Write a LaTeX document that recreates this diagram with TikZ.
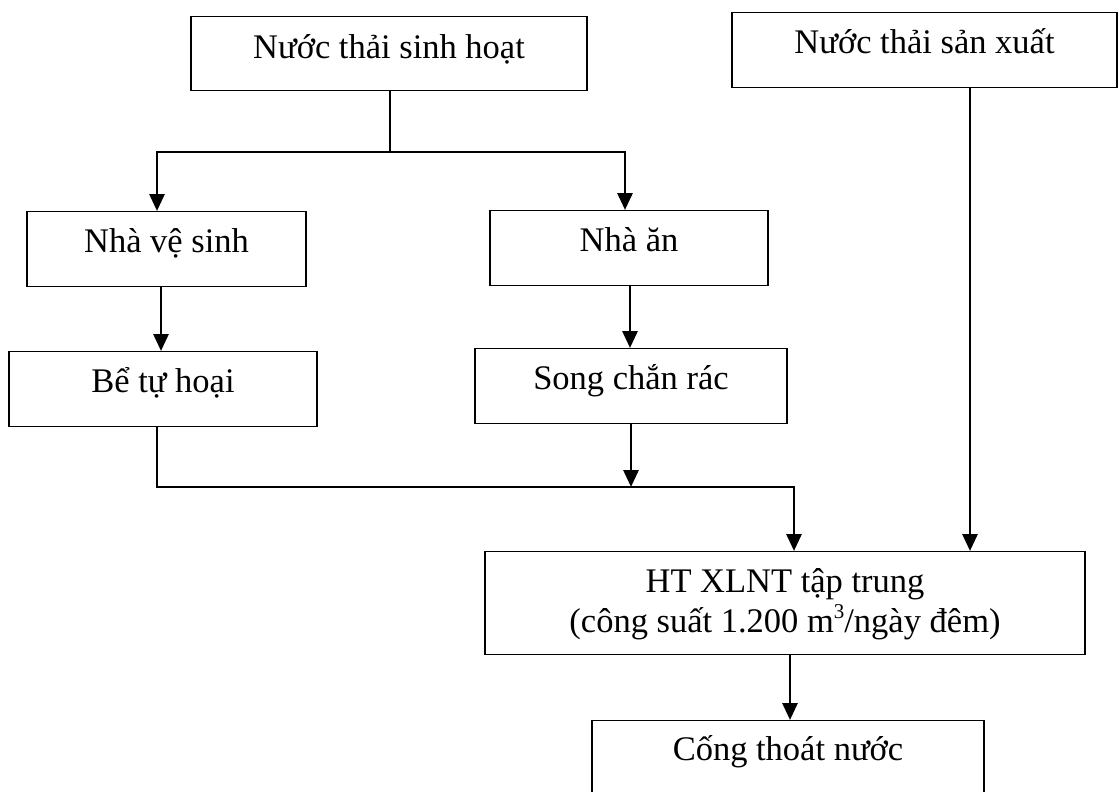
\documentclass[tikz,border=0pt]{standalone}
\usepackage{fontspec}
\setmainfont{Liberation Serif}
\usetikzlibrary{arrows.meta}
\newcommand{\cubic}{\raisebox{0.42em}{\fontsize{21}{21}\selectfont 3}}
\begin{document}
\begin{tikzpicture}[x=1pt,y=-1pt,
  box/.style={draw, line width=1.3pt, inner sep=0pt, anchor=north, align=center,
    font=\fontsize{34.5}{40}\selectfont, text height=41pt, text depth=34pt},
  flow/.style={line width=2.9pt},
  tip/.style={-{Triangle[length=17pt,width=15pt]}}]
\useasboundingbox (0,0) rectangle (1119,792);
\clip (0,0) rectangle (1119,792);

% process boxes
\node[box, minimum width=396pt, text height=42pt, text depth=32pt] (b1) at (389,16) {Nước thải sinh hoạt};
\node[box, minimum width=385pt] (b2) at (924.5,12) {Nước thải sản xuất};
\node[box, minimum width=279pt] (b3) at (166.5,211) {Nhà vệ sinh};
\node[box, minimum width=278pt] (b4) at (629,210) {Nhà ăn};
\node[box, minimum width=308pt] (b5) at (163,351) {Bể tự hoại};
\node[box, minimum width=312pt] (b6) at (631,348) {Song chắn rác};
\node[box, minimum width=600pt, text height=81pt, text depth=22pt] (b7) at (785,551) {HT XLNT tập trung\\(công suất 1.200 m\cubic/ngày đêm)};
\node[box, minimum width=392pt, text height=40pt, text depth=40pt] (b8) at (788,720) {Cống thoát nước};

% bend points and connector columns
\coordinate (j1) at (390,152);
\coordinate (l1) at (157,152);
\coordinate (r1) at (625,152);
\coordinate (xa) at (161,0);
\coordinate (xb) at (630,0);
\coordinate (j2) at (157,487);
\coordinate (k2) at (794,487);
\coordinate (xc) at (631,0);
\coordinate (xd) at (970,0);
\coordinate (xe) at (790,0);

% domestic wastewater split
\draw[flow] (b1.south -| j1) -- (j1);
\draw[flow,tip] (j1) -- (l1) -- (b3.north -| l1);
\draw[flow,tip] (j1) -- (r1) -- (b4.north -| r1);

% pre-treatment
\draw[flow,tip] (b3.south -| xa) -- (b5.north -| xa);
\draw[flow,tip] (b4.south -| xb) -- (b6.north -| xb);

% collection to central treatment
\draw[flow,tip] (b5.south -| j2) -- (j2) -- (k2) -- (b7.north -| k2);
\draw[flow,tip] (b6.south -| xc) -- (xc |- j2);
\draw[flow,tip] (b2.south -| xd) -- (b7.north -| xd);

% discharge
\draw[flow,tip] (b7.south -| xe) -- (b8.north -| xe);
\end{tikzpicture}
\end{document}
